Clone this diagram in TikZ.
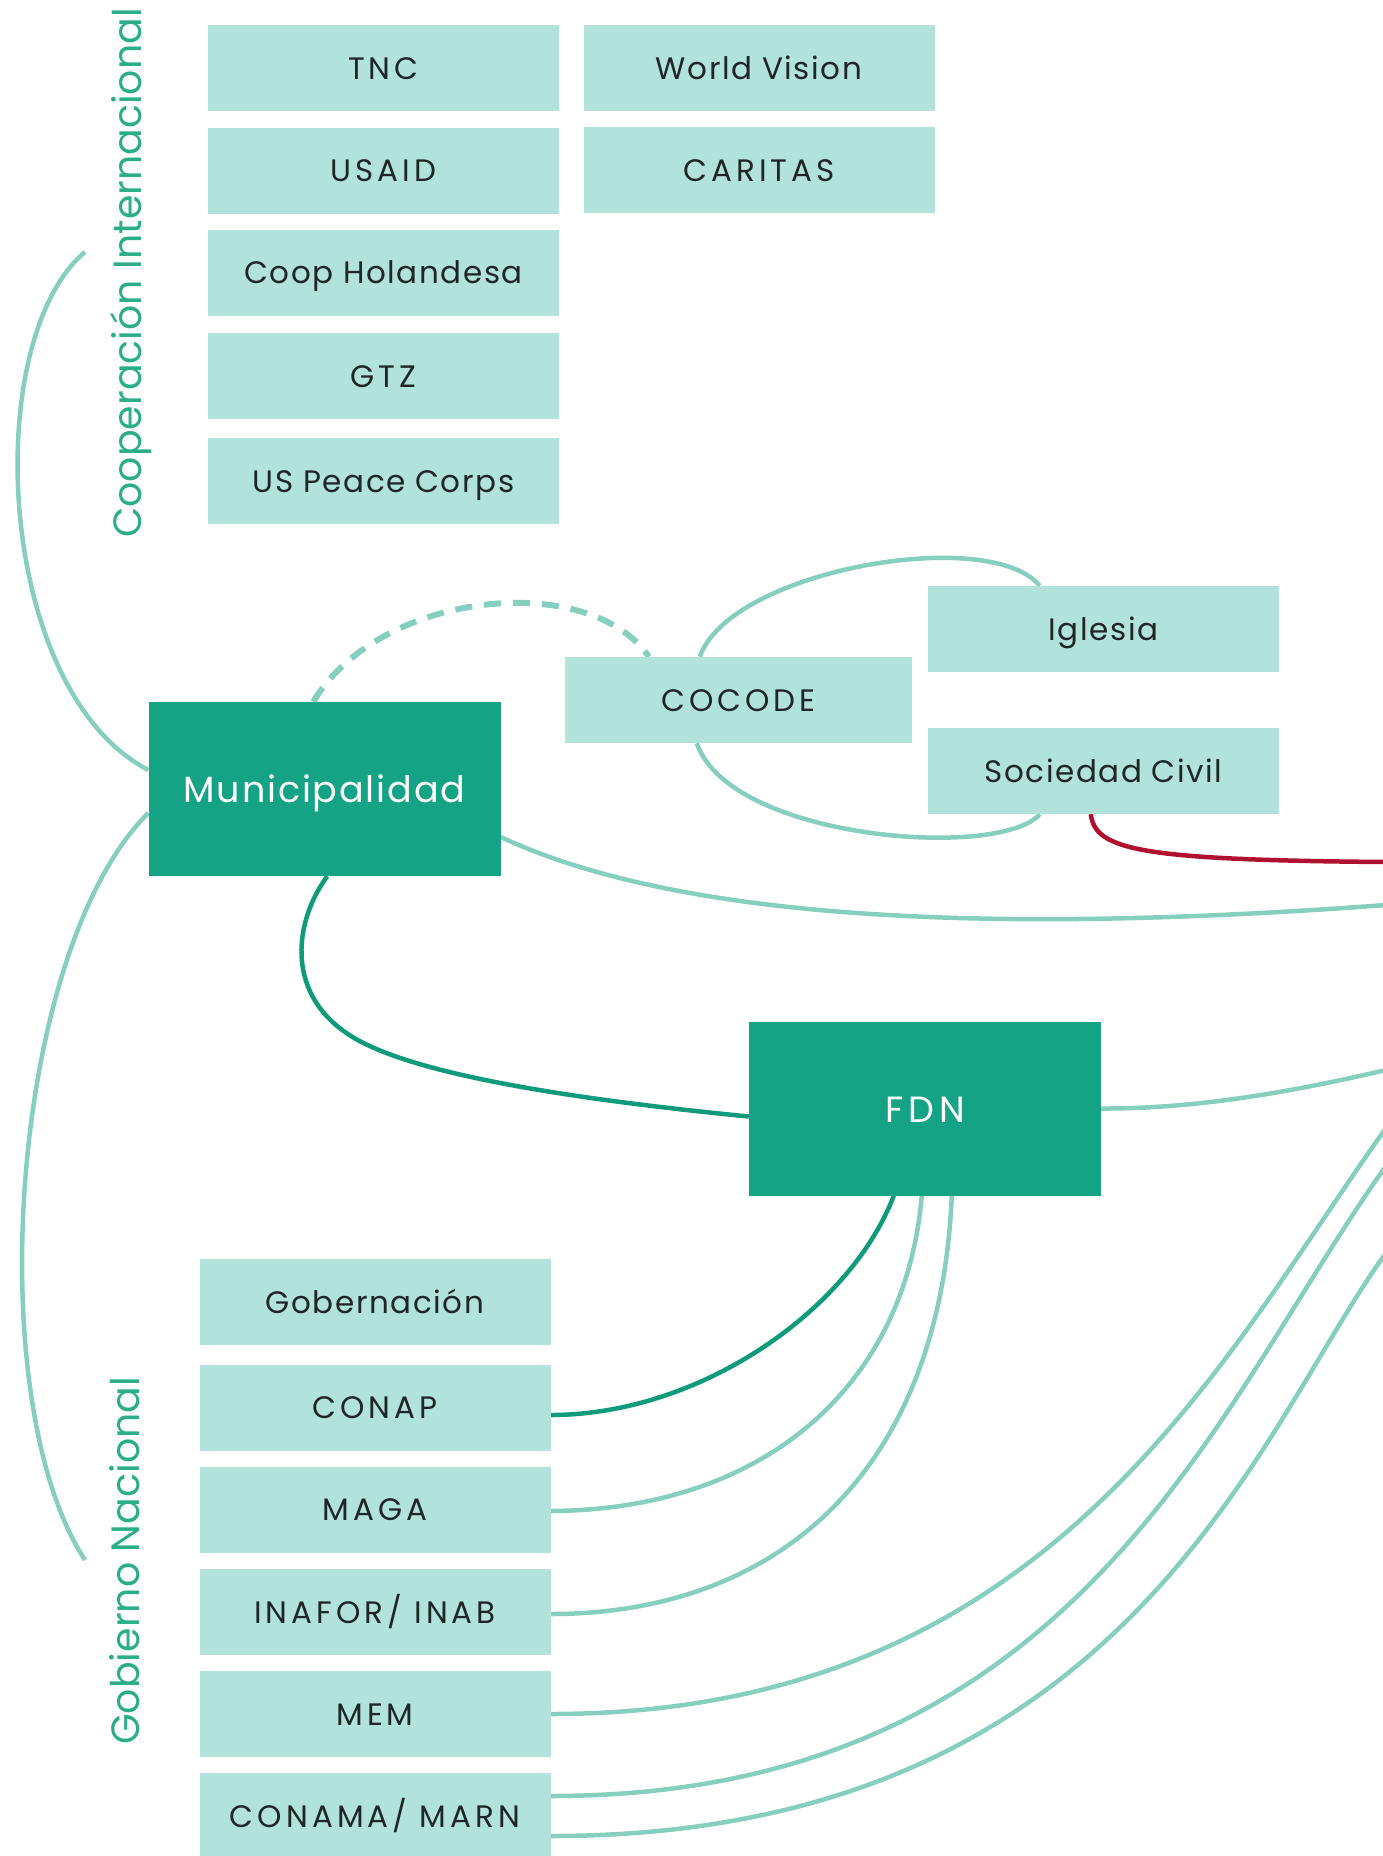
\documentclass[tikz,border=0pt]{standalone}
\usepackage{fontspec}
\setmainfont{Poppins}
\newfontfamily\boxfont[LetterSpace=5]{Poppins}
\newfontfamily\capsfont[LetterSpace=13]{Poppins}
\newfontfamily\lblfont{Poppins}
\usetikzlibrary{calc,backgrounds}
\definecolor{boxlight}{HTML}{B2E3DA}
\definecolor{boxdark}{HTML}{14A384}
\definecolor{linelight}{HTML}{86CFBF}
\definecolor{linedark}{HTML}{0F9B7B}
\definecolor{linered}{HTML}{B01030}
\definecolor{lblgreen}{HTML}{2BAE88}
\definecolor{txtdark}{HTML}{1E2626}
\begin{document}
\begin{tikzpicture}[x=1pt,y=-1pt,
  lbox/.style={fill=boxlight, minimum width=351pt, minimum height=86pt, inner sep=0pt,
    text=txtdark, text height=22pt, text depth=0pt, font=\boxfont\fontsize{31}{36}\selectfont},
  cbox/.style={lbox, font=\capsfont\fontsize{31}{36}\selectfont},
  dbox/.style={fill=boxdark, minimum width=352pt, minimum height=174pt, inner sep=0pt,
    text=white, text height=27pt, text depth=0pt, font=\boxfont\fontsize{36.5}{42}\selectfont},
  conn/.style={draw=linelight, line width=4.5pt},
  dconn/.style={draw=linedark, line width=4.5pt},
  rconn/.style={draw=linered, line width=4.5pt},
  dashconn/.style={draw=linelight, line width=6pt, dash pattern=on 17pt off 12pt},
  grouplabel/.style={rotate=90, anchor=base west, inner sep=0pt, text=lblgreen,
    font=\lblfont\fontsize{39.5}{45}\selectfont}]
\useasboundingbox (0,0) rectangle (1383,1856);
\clip (0,0) rectangle (1383,1856);

% Cooperacion Internacional
\node[cbox] (tnc) at (383.5,68) {TNC};
\node[cbox] (usaid) at (383.5,170.5) {USAID};
\node[lbox] (coop) at (383.5,272.5) {Coop Holandesa};
\node[cbox] (gtz) at (383.5,376) {GTZ};
\node[lbox] (uspc) at (383.5,481) {US Peace Corps};
\node[lbox] (wv) at (759,68) {World Vision};
\node[cbox] (caritas) at (759,170) {CARITAS};
\node[grouplabel] (coopint) at (141,538) {Cooperación Internacional};

% middle
\node[dbox] (muni) at (324.5,789) {Municipalidad};
\node[cbox, minimum width=347pt] (cocode) at (738.5,700) {COCODE};
\node[lbox] (iglesia) at (1103.5,629) {Iglesia};
\node[lbox] (soc) at (1103.5,771) {Sociedad Civil};
\node[dbox, font=\capsfont\fontsize{36.5}{42}\selectfont] (fdn) at (925,1108.5) {FDN};

% Gobierno Nacional
\node[lbox] (gob) at (375,1302) {Gobernación};
\node[cbox] (conap) at (375,1407.5) {CONAP};
\node[cbox] (maga) at (375,1509.5) {MAGA};
\node[cbox] (inafor) at (375,1612) {INAFOR/ INAB};
\node[cbox] (mem) at (375,1714) {MEM};
\node[cbox] (conama) at (375,1816) {CONAMA/ MARN};
\node[grouplabel] (gobnac) at (139,1745) {Gobierno Nacional};

% free ends
\coordinate (arcA) at (85,252);
\coordinate (arcB) at (85,1560);
\coordinate (redEnd) at (1386,862);
\coordinate (muniEnd) at (1386,905);
\coordinate (fdnEnd) at (1386,1070);
\coordinate (memEnd) at (1386,1128);
\coordinate (conamaEndA) at (1386,1166);
\coordinate (conamaEndB) at (1386,1253);

\begin{scope}[on background layer]
% brackets
\draw[conn] (arcA) .. controls (-20,340) and (-5,690) .. ([yshift=19pt]muni.west);
\draw[conn] ([yshift=-24pt]muni.west) .. controls (10,950) and (-20,1400) .. (arcB);
% dashed muni - cocode
\draw[dashconn] ([xshift=165pt]muni.north west) .. controls (380,590) and (590,570) .. ([xshift=84pt]cocode.north west);
% cocode loops
\draw[conn] ([xshift=135pt]cocode.north west) .. controls (730,570) and (990,525) .. ([xshift=112pt]iglesia.north west);
\draw[conn] ([xshift=132pt]cocode.south west) .. controls (730,840) and (1000,860) .. ([xshift=112pt]soc.south west);
% red
\draw[rconn] ([xshift=163pt]soc.south west) .. controls (1095,850) and (1140,860) .. (redEnd);
% muni right
\draw[conn] ([yshift=-48pt]muni.east) .. controls (700,930) and (1050,930) .. (muniEnd);
% muni - fdn
\draw[dconn] ([xshift=179pt]muni.south west) .. controls (295,920) and (285,990) .. (345,1032)
   .. controls (400,1072) and (560,1098) .. ([yshift=-8pt]fdn.west);
% fdn right
\draw[conn] (fdn.east) .. controls (1200,1109) and (1300,1090) .. (fdnEnd);
% fdn - gov
\draw[dconn] ([xshift=145pt]fdn.south west) .. controls (850,1310) and (700,1415) .. ([yshift=-7.5pt]conap.east);
\draw[conn] ([xshift=173pt]fdn.south west) .. controls (905,1390) and (760,1510) .. ([yshift=-1.5pt]maga.east);
\draw[conn] ([xshift=203pt]fdn.south west) .. controls (940,1470) and (780,1614) .. ([yshift=-2pt]inafor.east);
% long lines from right
\draw[conn] (mem.east) .. controls (1050,1714) and (1220,1360) .. (memEnd);
\draw[conn] ([yshift=20pt]conama.east) .. controls (1080,1796) and (1215,1405) .. (conamaEndA);
\draw[conn] ([yshift=-20pt]conama.east) .. controls (1130,1836) and (1260,1425) .. (conamaEndB);
\end{scope}
\end{tikzpicture}
\end{document}
